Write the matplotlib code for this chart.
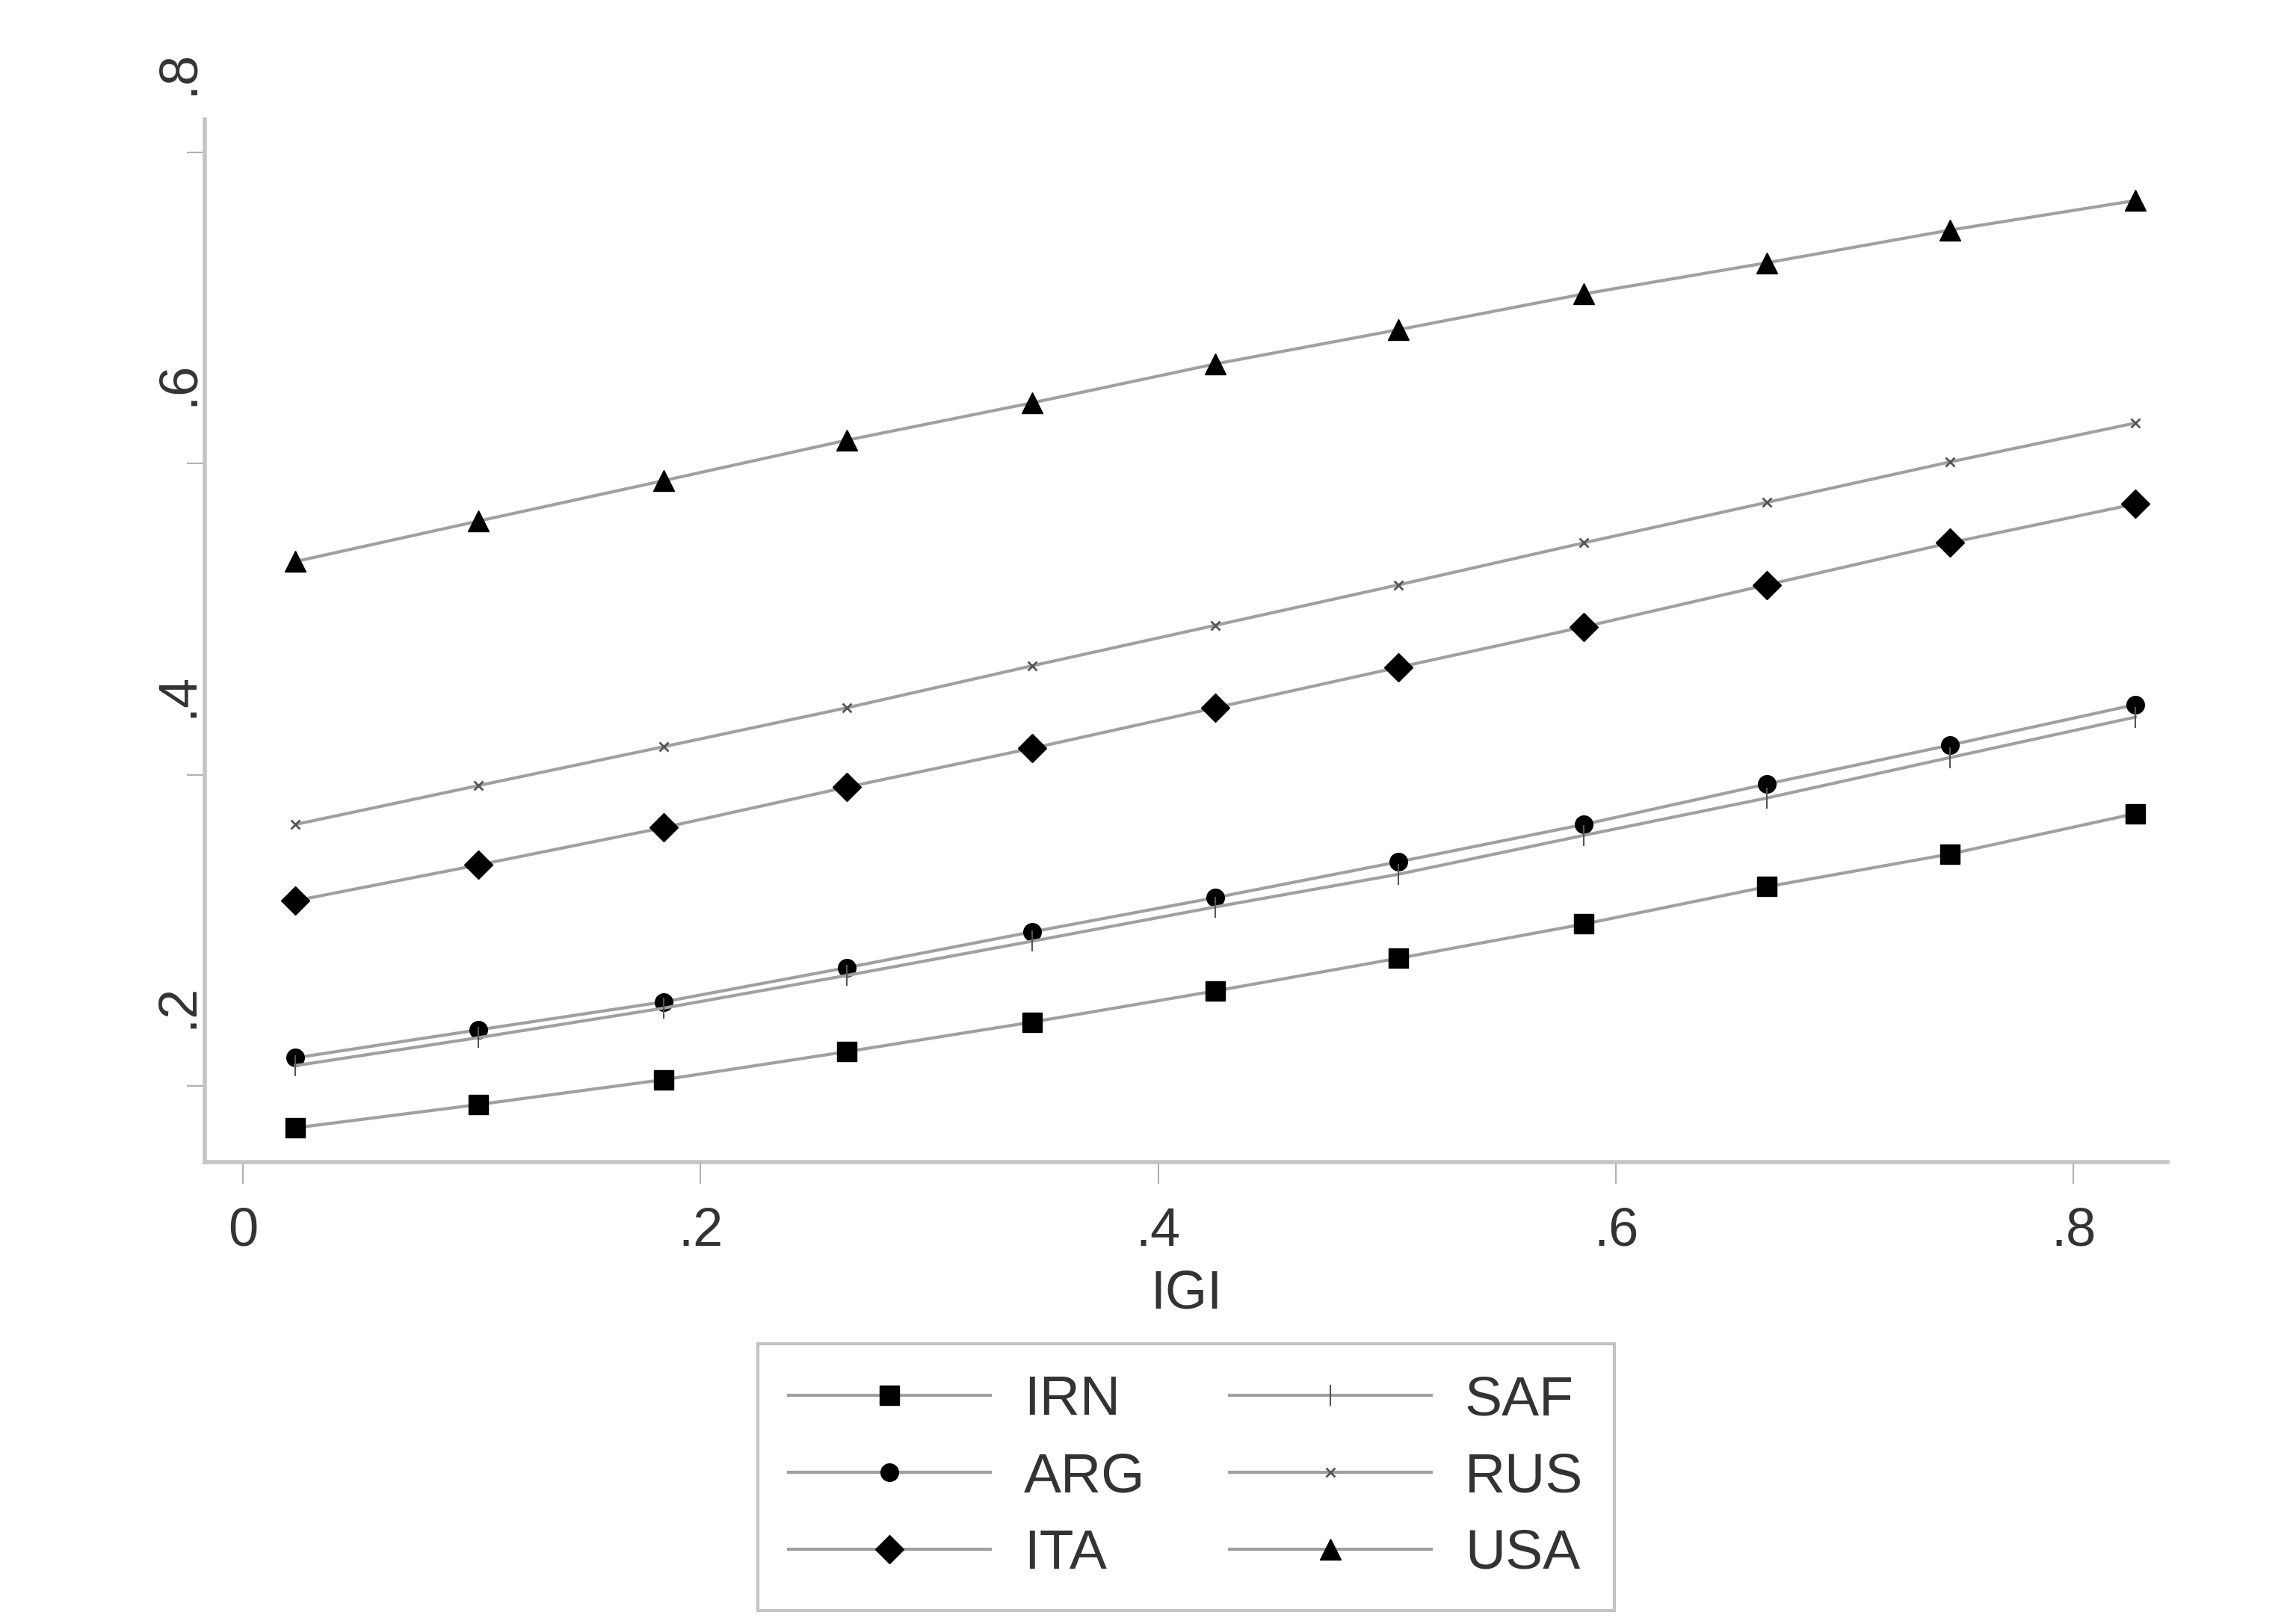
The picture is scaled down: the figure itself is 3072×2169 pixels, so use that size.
import matplotlib
matplotlib.use("Agg")
import matplotlib.pyplot as plt
import matplotlib.transforms as mtransforms

# --- data ---
igi = [0.023, 0.103, 0.184, 0.264, 0.345, 0.425, 0.505, 0.586, 0.666, 0.746, 0.827]

irn = [0.173, 0.188, 0.204, 0.222, 0.241, 0.261, 0.282, 0.304, 0.328, 0.349, 0.375]
arg = [0.218, 0.236, 0.254, 0.276, 0.299, 0.321, 0.344, 0.368, 0.394, 0.419, 0.445]
ita = [0.319, 0.342, 0.366, 0.392, 0.417, 0.443, 0.469, 0.495, 0.522, 0.549, 0.574]
saf = [0.213, 0.231, 0.250, 0.271, 0.293, 0.315, 0.336, 0.361, 0.385, 0.411, 0.437]
rus = [0.368, 0.393, 0.418, 0.443, 0.470, 0.496, 0.522, 0.549, 0.575, 0.601, 0.626]
usa = [0.537, 0.563, 0.589, 0.615, 0.639, 0.664, 0.686, 0.709, 0.729, 0.750, 0.769]

xticks = [0, 0.2, 0.4, 0.6, 0.8]
xtick_labels = ["0", ".2", ".4", ".6", ".8"]
yticks = [0.2, 0.4, 0.6, 0.8]
ytick_labels = [".2", ".4", ".6", ".8"]

plt.rcParams["font.family"] = ["Liberation Sans", "DejaVu Sans"]

fig = plt.figure(figsize=(30.72, 21.69), dpi=100)
ax = fig.add_axes([0.0892, 0.2831, 0.8548, 0.6431])

line_col = "#a0a0a0"
lw = 3

ax.plot(igi, irn, color=line_col, lw=lw, marker="s", ms=19, mfc="black", mec="black", label="IRN")
ax.plot(igi, arg, color=line_col, lw=lw, marker="o", ms=17, mfc="black", mec="black", label="ARG")
ax.plot(igi, ita, color=line_col, lw=lw, marker="D", ms=19, mfc="black", mec="black", label="ITA")
ax.plot(igi, saf, color=line_col, lw=lw, marker="|", ms=20, mew=1.5, mec="#555555", label="SAF")
ax.plot(igi, rus, color=line_col, lw=lw, marker="x", ms=9, mew=2, mec="#555555", label="RUS")
ax.plot(igi, usa, color=line_col, lw=lw, marker="^", ms=20, mfc="black", mec="black", label="USA")

ax.set_xlim(-0.0166, 0.841)
ax.set_ylim(0.151, 0.821)

ax.spines["top"].set_visible(False)
ax.spines["right"].set_visible(False)
for s in ("left", "bottom"):
    ax.spines[s].set_color("#c4c4c4")
    ax.spines[s].set_linewidth(4)

ax.set_xticks(xticks)
ax.set_xticklabels(xtick_labels)
ax.set_yticks(yticks)
ax.set_yticklabels(ytick_labels, rotation=90, va="center", ha="right")
ax.tick_params(axis="x", length=21, width=1.5, color="#b0b0b0", labelsize=52, pad=22, labelcolor="#333333")
ax.tick_params(axis="y", length=17, width=1.5, color="#b0b0b0", labelsize=52, pad=-16, labelcolor="#333333")

# the y labels sit shifted upwards relative to their ticks in the original
shift = mtransforms.ScaledTranslation(0, 1.07, fig.dpi_scale_trans)
for lab in ax.get_yticklabels():
    lab.set_transform(lab.get_transform() + shift)

ax.set_xlabel("IGI", fontsize=52, color="#333333", labelpad=12)

leg = fig.legend(loc="center", bbox_to_anchor=(0.5165, 0.0887), ncol=2, fontsize=54,
                 frameon=True, fancybox=False, edgecolor="#b5b5b5", handlelength=3.6,
                 handletextpad=0.6, columnspacing=1.5, labelspacing=0.45, borderpad=0.55)
leg.get_frame().set_linewidth(3)
for t in leg.get_texts():
    t.set_color("#333333")

fig.savefig("out.png", dpi=100, facecolor="white")
